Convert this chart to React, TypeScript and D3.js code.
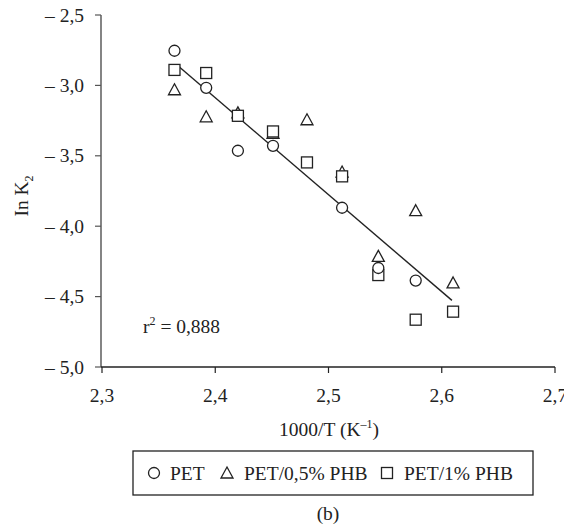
import React from "react";
import * as d3 from "d3";

const xTicks = [2.3, 2.4, 2.5, 2.6, 2.7];
const yTicks = [-2.5, -3.0, -3.5, -4.0, -4.5, -5.0];

const petX = [2.364, 2.392, 2.420, 2.451, 2.512, 2.544, 2.577];
const petY = [-2.754, -3.017, -3.464, -3.429, -3.869, -4.297, -4.386];

const phb05X = [2.364, 2.392, 2.420, 2.451, 2.481, 2.512, 2.544, 2.577, 2.610];
const phb05Y = [-3.031, -3.223, -3.195, -3.34, -3.244, -3.615, -4.214, -3.890, -4.403];

const phb1X = [2.364, 2.392, 2.420, 2.451, 2.481, 2.512, 2.544, 2.577, 2.610];
const phb1Y = [-2.890, -2.912, -3.216, -3.327, -3.547, -3.646, -4.347, -4.664, -4.607];

const fitX = [2.366, 2.609];
const fitY = [-2.853, -4.527];

const legendLabels = ["PET", "PET/0,5% PHB", "PET/1% PHB"];

const W = 564;
const H = 525;
const FONT = "'Liberation Serif', 'Times New Roman', serif";
const FS = 19.5;

const fmt = (v: number) => v.toFixed(1).replace(".", ",");
const fmtY = (v: number) => "\u2013 " + Math.abs(v).toFixed(1).replace(".", ",");

function Circle({ cx, cy }: { cx: number; cy: number }) {
  return <circle cx={cx} cy={cy} r={5.5} fill="white" stroke="#222" strokeWidth={1.3} />;
}
function Tri({ cx, cy }: { cx: number; cy: number }) {
  const s = 6;
  const d = `M${cx},${cy - s} L${cx + s},${cy + 5} L${cx - s},${cy + 5} Z`;
  return <path d={d} fill="white" stroke="#222" strokeWidth={1.3} />;
}
function Sq({ cx, cy }: { cx: number; cy: number }) {
  return <rect x={cx - 5.5} y={cy - 5.5} width={11} height={11} fill="white" stroke="#222" strokeWidth={1.3} />;
}

export default function App() {
  const x = d3.scaleLinear().domain([2.3, 2.7]).range([102, 555]);
  const y = d3.scaleLinear().domain([-5, -2.5]).range([367, 15]);
  const line = d3
    .line<number>()
    .x((_, i) => x(fitX[i]))
    .y((d) => y(d));

  return (
    <svg
      width={W}
      height={H}
      style={{ position: "absolute", left: 0, top: 0, background: "white" }}
      fontFamily={FONT}
    >
      <rect x={0} y={0} width={W} height={H} fill="white" />
      {/* y axis */}
      <line x1={101} x2={101} y1={y(-2.5)} y2={y(-5)} stroke="#666" strokeWidth={1.6} />
      {yTicks.map((t) => (
        <g key={t}>
          <line x1={95} x2={101} y1={y(t)} y2={y(t)} stroke="#555" strokeWidth={1.2} />
          <text x={84} y={y(t) + 6.5} textAnchor="end" fontSize={FS} fill="#222">
            {fmtY(t)}
          </text>
        </g>
      ))}
      {/* x axis */}
      <line x1={101} x2={x(2.7)} y1={y(-5)} y2={y(-5)} stroke="#222" strokeWidth={1.3} />
      {xTicks.map((t) => (
        <g key={t}>
          <line x1={x(t)} x2={x(t)} y1={y(-5)} y2={y(-5) + 6} stroke="#222" strokeWidth={1.2} />
          <text x={x(t)} y={402} textAnchor="middle" fontSize={FS} fill="#222">
            {fmt(t)}
          </text>
        </g>
      ))}
      <text x={329} y={436} textAnchor="middle" fontSize={FS} fill="#222">
        1000/T (K
        <tspan dy={-8} fontSize={12}>–1</tspan>
        <tspan dy={8}>)</tspan>
      </text>
      <text transform={`translate(28,196) rotate(-90)`} textAnchor="middle" fontSize={FS} fill="#222">
        In K<tspan dy={5} fontSize={12}>2</tspan>
      </text>

      {/* fit line */}
      <path d={line(fitY) || ""} fill="none" stroke="#222" strokeWidth={1.4} />

      {/* data */}
      {phb05X.map((v, i) => (
        <Tri key={"t" + i} cx={x(v)} cy={y(phb05Y[i])} />
      ))}
      {phb1X.map((v, i) => (
        <Sq key={"s" + i} cx={x(v)} cy={y(phb1Y[i])} />
      ))}
      {petX.map((v, i) => (
        <Circle key={"c" + i} cx={x(v)} cy={y(petY[i])} />
      ))}

      <text x={143} y={333} fontSize={FS} fill="#222">
        r<tspan dy={-8} fontSize={12}>2</tspan>
        <tspan dy={8}> = 0,888</tspan>
      </text>

      {/* legend */}
      <rect x={133} y={451} width={400} height={44} fill="white" stroke="#222" strokeWidth={1.3} />
      <Circle cx={154} cy={473} />
      <text x={170} y={480} fontSize={FS} fill="#222">{legendLabels[0]}</text>
      <Tri cx={227} cy={473} />
      <text x={244} y={480} fontSize={FS} fill="#222">{legendLabels[1]}</text>
      <Sq cx={387} cy={473} />
      <text x={404} y={480} fontSize={FS} fill="#222">{legendLabels[2]}</text>

      <text x={328} y={520} textAnchor="middle" fontSize={FS} fill="#222">(b)</text>
    </svg>
  );
}
